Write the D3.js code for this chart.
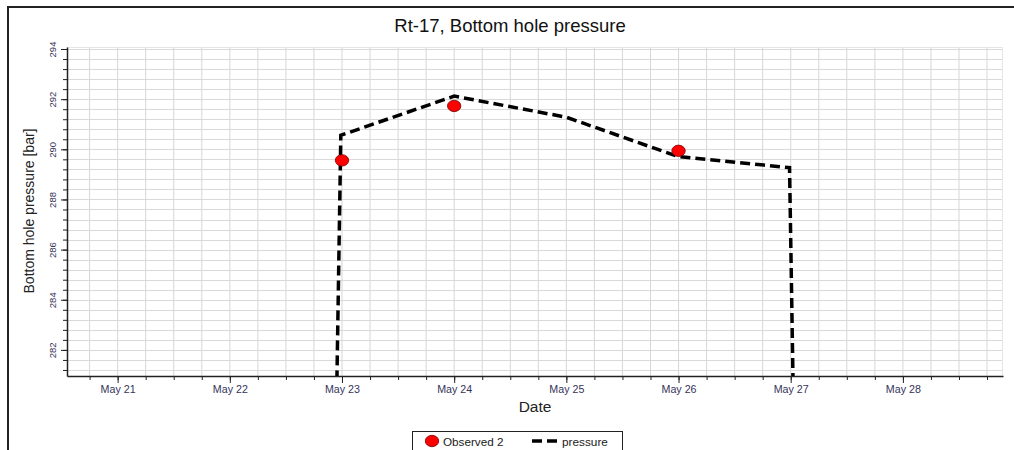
<!DOCTYPE html>
<html>
<head>
<meta charset="utf-8">
<script src="https://cdn.jsdelivr.net/npm/d3@7"></script>
<style>
  body { margin: 0; background: #fff; }
  svg { display: block; font-family: "Liberation Sans", Arial, sans-serif; }
</style>
</head>
<body>
<svg id="chart" width="1014" height="450"></svg>
<script>
// pressure series (simulated), times and values
const pressureTimes = [
  "2023-05-22T22:30", "2023-05-22T23:45", "2023-05-24T00:00", "2023-05-25T00:00",
  "2023-05-25T23:45", "2023-05-26T23:45", "2023-05-27T01:00"
];
const pressureValues = [276, 290.56, 292.12, 291.28, 289.72, 289.27, 275];

// observed points
const observedTimes = ["2023-05-23T00:00", "2023-05-24T00:00", "2023-05-26T00:00"];
const observedValues = [289.56, 291.73, 289.94];

const dayTicks = ["2023-05-21", "2023-05-22", "2023-05-23", "2023-05-24",
                  "2023-05-25", "2023-05-26", "2023-05-27", "2023-05-28"];
const yTickLabels = [282, 284, 286, 288, 290, 292, 294];

const parse = d3.timeParse("%Y-%m-%dT%H:%M");
const parseDay = d3.timeParse("%Y-%m-%d");

const pressure = pressureTimes.map((t, i) => ({ date: parse(t), value: pressureValues[i] }));
const observed = observedTimes.map((t, i) => ({ date: parse(t), value: observedValues[i] }));

const svg = d3.select("#chart");
const plot = { left: 67, right: 1003, top: 47, bottom: 376 };

const x = d3.scaleTime()
  .domain([parse("2023-05-20T13:10"), parse("2023-05-28T21:25")])
  .range([plot.left, plot.right]);

const y = d3.scaleLinear()
  .domain([280.96, 294.08])
  .range([plot.bottom, plot.top]);

// outer frame (only top and left edges fall inside the picture)
svg.append("rect")
  .attr("x", 8).attr("y", 7)
  .attr("width", 1030).attr("height", 470)
  .attr("fill", "none").attr("stroke", "#222").attr("stroke-width", 2);

// title
svg.append("text")
  .attr("x", 510).attr("y", 32)
  .attr("text-anchor", "middle")
  .attr("font-size", 18.5).attr("fill", "#111")
  .text("Rt-17, Bottom hole pressure");

// grid
const sixHours = d3.timeHour.every(6).range(x.domain()[0], x.domain()[1]);
const minorY = d3.range(282 - 0.8, 294.01, 0.4).filter(v => v >= y.domain()[0]);

const grid = svg.append("g");
grid.selectAll(".gx").data(sixHours).join("line")
  .attr("x1", d => x(d)).attr("x2", d => x(d))
  .attr("y1", plot.top).attr("y2", plot.bottom)
  .attr("stroke", "#d6d6d6").attr("stroke-width", 1);
grid.selectAll(".gy").data(minorY).join("line")
  .attr("x1", plot.left).attr("x2", plot.right)
  .attr("y1", d => Math.round(y(d)) + 0.5).attr("y2", d => Math.round(y(d)) + 0.5)
  .attr("stroke", "#d9d9d9").attr("stroke-width", 1);
grid.append("line")
  .attr("x1", plot.left).attr("x2", plot.right)
  .attr("y1", plot.top + 0.5).attr("y2", plot.top + 0.5)
  .attr("stroke", "#e6e6e6");
grid.append("line")
  .attr("x1", plot.right - 0.5).attr("x2", plot.right - 0.5)
  .attr("y1", plot.top).attr("y2", plot.bottom)
  .attr("stroke", "#e6e6e6");

// x axis
const xMinor = d3.axisBottom(x).tickValues(sixHours).tickSize(4).tickFormat("");
svg.append("g").attr("transform", `translate(0,${plot.bottom})`).call(xMinor)
  .call(g => g.select(".domain").remove())
  .call(g => g.selectAll("line").attr("stroke", "#222"));

const xAxis = d3.axisBottom(x)
  .tickValues(dayTicks.map(parseDay))
  .tickSize(7).tickSizeOuter(0)
  .tickFormat(d3.timeFormat("%b %-d"));
svg.append("g").attr("transform", `translate(0,${plot.bottom})`).call(xAxis)
  .call(g => g.select(".domain").attr("stroke", "#222").attr("stroke-width", 1.5))
  .call(g => g.selectAll("line").attr("stroke", "#222"))
  .call(g => g.selectAll("text")
    .attr("font-family", "Liberation Sans, Arial, sans-serif")
    .attr("font-size", 10.7).attr("fill", "#34345a").attr("dy", "0.71em").attr("y", 9.5));

// y axis
const yMinor = d3.axisLeft(y).tickValues(minorY).tickSize(4).tickFormat("");
svg.append("g").attr("transform", `translate(${plot.left},0)`).call(yMinor)
  .call(g => g.select(".domain").remove())
  .call(g => g.selectAll("line").attr("stroke", "#222"));

const yAxis = d3.axisLeft(y).tickValues(yTickLabels).tickSize(6).tickSizeOuter(0);
svg.append("g").attr("transform", `translate(${plot.left},0)`).call(yAxis)
  .call(g => g.select(".domain").attr("stroke", "#222").attr("stroke-width", 1.5))
  .call(g => g.selectAll("line").attr("stroke", "#222"))
  .call(g => g.selectAll("text")
    .attr("font-family", "Liberation Sans, Arial, sans-serif")
    .attr("font-size", 9.5).attr("fill", "#34345a")
    .attr("x", null).attr("dy", null)
    .attr("text-anchor", "middle")
    .attr("transform", "translate(-15,0) rotate(-90)")
    .attr("y", 3.5));

// axis titles
svg.append("text")
  .attr("x", 535).attr("y", 412)
  .attr("text-anchor", "middle")
  .attr("font-size", 15.5).attr("fill", "#222")
  .text("Date");

svg.append("text")
  .attr("transform", "translate(34,211) rotate(-90)")
  .attr("text-anchor", "middle")
  .attr("font-size", 14).attr("fill", "#222")
  .text("Bottom hole pressure [bar]");

// clip for series
svg.append("clipPath").attr("id", "plot-clip")
  .append("rect")
  .attr("x", plot.left).attr("y", plot.top)
  .attr("width", plot.right - plot.left).attr("height", plot.bottom - plot.top);

const series = svg.append("g").attr("clip-path", "url(#plot-clip)");

const line = d3.line().x(d => x(d.date)).y(d => y(d.value));
series.append("path")
  .datum(pressure)
  .attr("d", line)
  .attr("fill", "none")
  .attr("stroke", "#000")
  .attr("stroke-width", 3.5)
  .attr("stroke-dasharray", "10,5");

series.selectAll(".obs").data(observed).join("ellipse")
  .attr("cx", d => x(d.date)).attr("cy", d => y(d.value))
  .attr("rx", 6.7).attr("ry", 5.7)
  .attr("fill", "#ff0000").attr("stroke", "#700").attr("stroke-width", 0.8);

// legend
const legend = svg.append("g");
legend.append("rect")
  .attr("x", 412.5).attr("y", 431.5)
  .attr("width", 210).attr("height", 30)
  .attr("fill", "#fff").attr("stroke", "#222").attr("stroke-width", 1);
legend.append("ellipse")
  .attr("cx", 432).attr("cy", 441).attr("rx", 6.7).attr("ry", 5.7)
  .attr("fill", "#ff0000").attr("stroke", "#700").attr("stroke-width", 0.8);
legend.append("text")
  .attr("x", 443).attr("y", 446).attr("font-size", 11.7).attr("fill", "#222")
  .text("Observed 2");
legend.append("line")
  .attr("x1", 532).attr("x2", 557).attr("y1", 441).attr("y2", 441)
  .attr("stroke", "#000").attr("stroke-width", 3.5).attr("stroke-dasharray", "10,5");
legend.append("text")
  .attr("x", 562).attr("y", 446).attr("font-size", 11.8).attr("fill", "#222")
  .text("pressure");
</script>
</body>
</html>
